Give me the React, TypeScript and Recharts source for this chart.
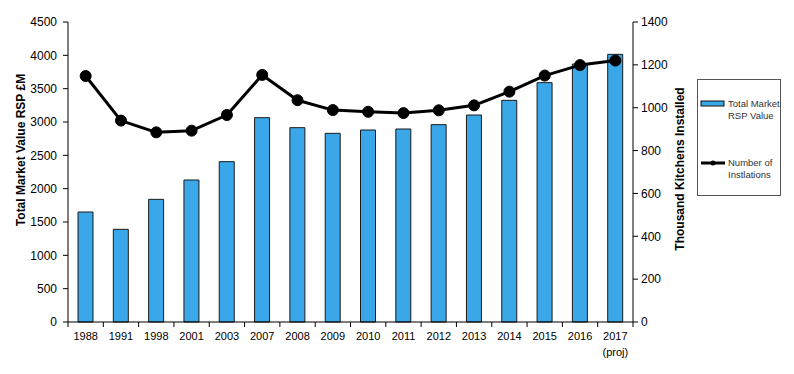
import { Bar, ComposedChart, Line, XAxis, YAxis } from "recharts";

const years = ["1988", "1991", "1998", "2001", "2003", "2007", "2008", "2009", "2010", "2011", "2012", "2013", "2014", "2015", "2016", "2017\n(proj)"];
const marketValue = [1650, 1390, 1840, 2130, 2405, 3065, 2915, 2830, 2880, 2895, 2960, 3105, 3325, 3590, 3870, 4015];
const installations = [1148, 940, 885, 893, 966, 1153, 1035, 989, 981, 975, 988, 1011, 1075, 1150, 1199, 1220];
const leftTicks = [0, 500, 1000, 1500, 2000, 2500, 3000, 3500, 4000, 4500];
const rightTicks = [0, 200, 400, 600, 800, 1000, 1200, 1400];

const data = years.map((year, idx) => ({ idx, year, value: marketValue[idx], installs: installations[idx] }));
// category centres get labels, half steps get the Excel-style boundary ticks
const xTicks = [...years.flatMap((_, i) => [i - 0.5, i]), years.length - 0.5];

const FONT = "'Liberation Sans', Arial, sans-serif";
const BAR_BLUE = "#3aa8e8";

function YearTick({ x, y, payload }: any) {
  const v = payload.value;
  if (!Number.isInteger(v)) return <line x1={x} x2={x} y1={y - 5} y2={y} stroke="#000" />;
  const lines = years[v].split("\n");
  return (
    <text x={x} y={y} textAnchor="middle" fontSize={11} fill="#000" fontFamily={FONT}>
      {lines.map((line, i) => (
        <tspan key={i} x={x} dy={i === 0 ? 13 : 16}>{line}</tspan>
      ))}
    </text>
  );
}

function AxisTitle({ viewBox, text, dx, dy }: any) {
  const cx = viewBox.x + dx;
  const cy = viewBox.y + viewBox.height / 2 + dy;
  return (
    <text x={cx} y={cy} transform={`rotate(-90 ${cx} ${cy})`} textAnchor="middle" dominantBaseline="central" fontWeight="bold" fontSize={12} fill="#000" fontFamily={FONT}>
      {text}
    </text>
  );
}

function ChartLegend() {
  return (
    <div style={{ position: "absolute", left: 697, top: 79, width: 84, height: 117, border: "1px solid #555", boxSizing: "border-box", fontFamily: FONT, fontSize: 9.5, lineHeight: "12px", color: "#333" }}>
      <svg width={26} height={8} style={{ position: "absolute", left: 2, top: 20 }}>
        <rect x={1} y={1} width={23} height={5} fill={BAR_BLUE} stroke="#111" />
      </svg>
      <div style={{ position: "absolute", left: 30, top: 18 }}>Total Market<br />RSP Value</div>
      <svg width={26} height={8} style={{ position: "absolute", left: 2, top: 79 }}>
        <line x1={1} x2={25} y1={4} y2={4} stroke="#000" strokeWidth={3} />
        <circle cx={13} cy={4} r={2.5} fill="#000" />
      </svg>
      <div style={{ position: "absolute", left: 30, top: 77 }}>Number of<br />Instlations</div>
    </div>
  );
}

export default function App() {
  return (
    <div style={{ position: "absolute", left: 0, top: 0, width: 794, height: 374, background: "#fff" }}>
      <ComposedChart width={794} height={374} data={data} margin={{ top: 22, right: 91, bottom: 22, left: 0 }} style={{ fontFamily: FONT }}>
        <XAxis
          xAxisId="x"
          type="number"
          dataKey="idx"
          domain={[-0.5, years.length - 0.5]}
          ticks={xTicks}
          interval={0}
          tick={<YearTick />}
          tickLine={false}
          tickSize={5}
          tickMargin={0}
          height={30}
          axisLine={{ stroke: "#000" }}
        />
        <YAxis
          yAxisId="left"
          domain={[0, 4500]}
          ticks={leftTicks}
          interval={0}
          width={68}
          tick={{ fontSize: 12, fill: "#000" }}
          tickSize={5}
          tickMargin={6}
          axisLine={{ stroke: "#000" }}
          tickLine={{ stroke: "#000" }}
          label={<AxisTitle text="Total Market Value RSP £M" dx={21} dy={-22} />}
        />
        <YAxis
          yAxisId="right"
          orientation="right"
          domain={[0, 1400]}
          ticks={rightTicks}
          interval={0}
          width={70}
          tick={{ fontSize: 12, fill: "#000" }}
          tickSize={5}
          tickMargin={3}
          axisLine={{ stroke: "#000" }}
          tickLine={{ stroke: "#000" }}
          label={<AxisTitle text="Thousand Kitchens Installed" dx={47} dy={-3} />}
        />
        <Bar xAxisId="x" yAxisId="left" dataKey="value" barSize={15} fill={BAR_BLUE} stroke="#1a1a1a" strokeWidth={1} isAnimationActive={false} />
        <Line
          xAxisId="x"
          yAxisId="right"
          type="linear"
          dataKey="installs"
          stroke="#000"
          strokeWidth={3}
          strokeLinejoin="round"
          dot={{ r: 5.5, fill: "#000", stroke: "#000", strokeWidth: 1 }}
          isAnimationActive={false}
        />
      </ComposedChart>
      <ChartLegend />
    </div>
  );
}
